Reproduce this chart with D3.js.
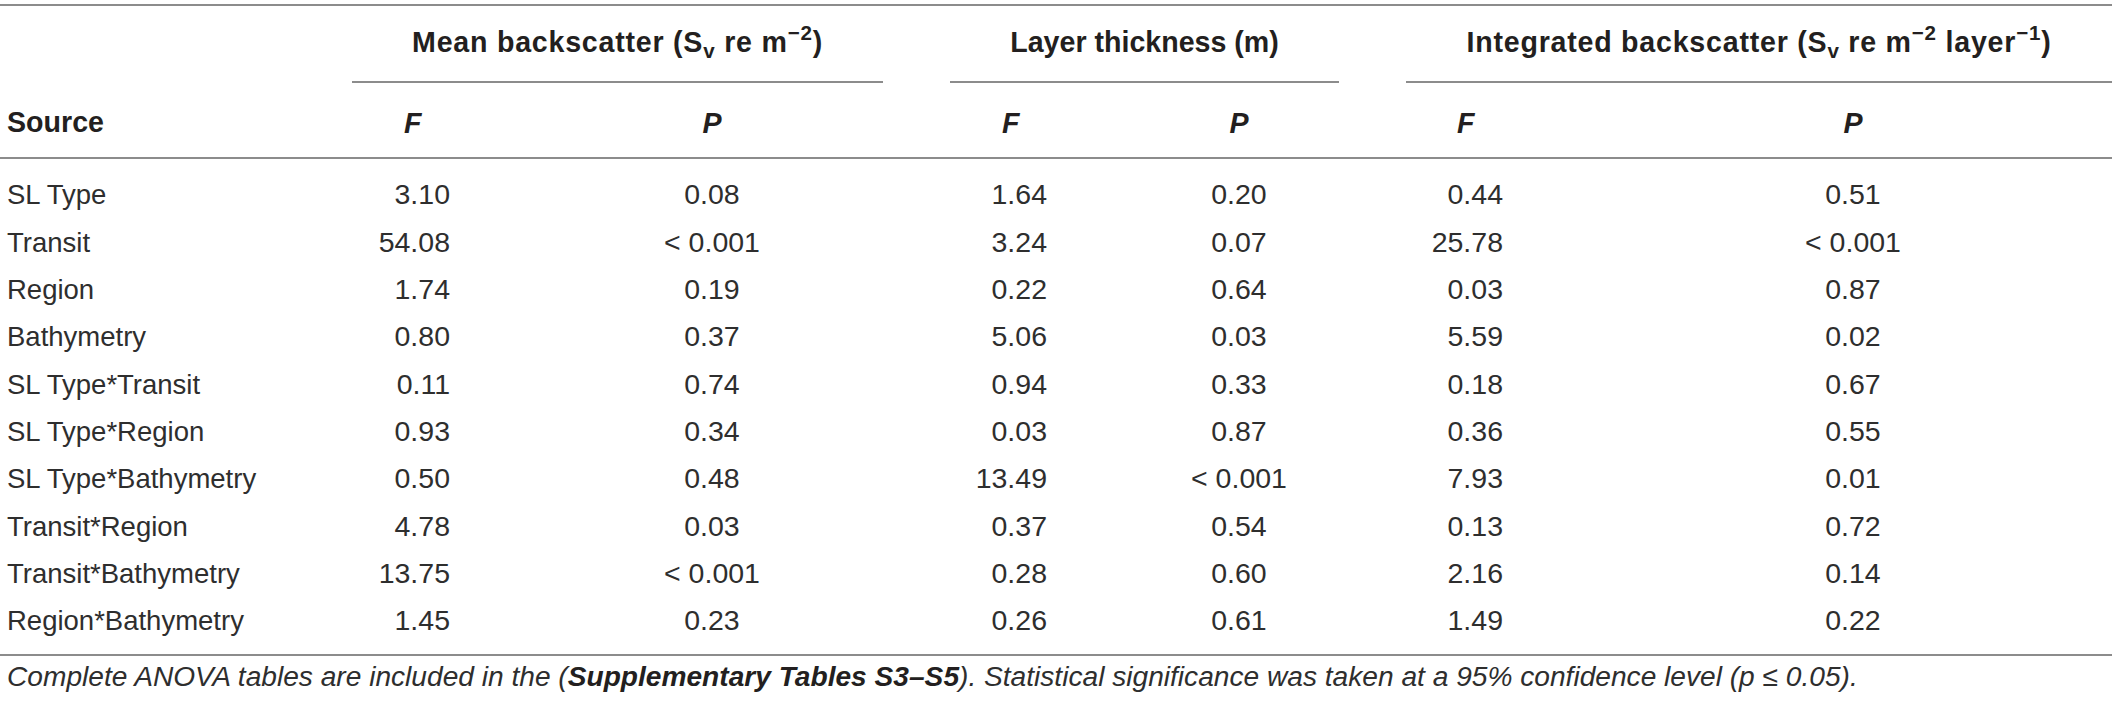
<!DOCTYPE html>
<html>
<head>
<meta charset="utf-8">
<script src="https://cdn.jsdelivr.net/npm/d3@7"></script>
<style>
  html, body { margin: 0; padding: 0; background: #ffffff; }
  svg { display: block; }
</style>
</head>
<body>
<svg id="chart" width="2118" height="705"></svg>
<script>
// ---- data ----
const sources = ["SL Type", "Transit", "Region", "Bathymetry", "SL Type*Transit",
  "SL Type*Region", "SL Type*Bathymetry", "Transit*Region", "Transit*Bathymetry", "Region*Bathymetry"];
const meanF  = ["3.10", "54.08", "1.74", "0.80", "0.11", "0.93", "0.50", "4.78", "13.75", "1.45"];
const meanP  = ["0.08", "< 0.001", "0.19", "0.37", "0.74", "0.34", "0.48", "0.03", "< 0.001", "0.23"];
const layerF = ["1.64", "3.24", "0.22", "5.06", "0.94", "0.03", "13.49", "0.37", "0.28", "0.26"];
const layerP = ["0.20", "0.07", "0.64", "0.03", "0.33", "0.87", "< 0.001", "0.54", "0.60", "0.61"];
const intF   = ["0.44", "25.78", "0.03", "5.59", "0.18", "0.36", "7.93", "0.13", "2.16", "1.49"];
const intP   = ["0.51", "< 0.001", "0.87", "0.02", "0.67", "0.55", "0.01", "0.72", "0.14", "0.22"];
const groups = ["mean", "layer", "int"];
const columnKeys = ["meanF", "meanP", "layerF", "layerP", "intF", "intP"];
const columnValues = [meanF, meanP, layerF, layerP, intF, intP];

// ---- layout ----
const W = 2118, H = 705;
const svg = d3.select("#chart");
const ink = "#231f20";
const bodyInk = "#2e2e2e";
const rule = "#8c8c8c";
const bodyFont = "'Liberation Sans', Arial, Helvetica, sans-serif";
const fs = 28.5;
const lfs = 27.5;
const hfs = 28.6;
const capOff = fs * 0.36;

const y = d3.scalePoint().domain(sources).range([194, 620]);
// anchor positions for each column (F: right edge, P: centre)
const colX = d3.scaleOrdinal().domain(columnKeys).range([450, 712, 1047, 1239, 1503, 1853]);
const colAnchor = d3.scaleOrdinal().domain(columnKeys).range(["end", "middle", "end", "middle", "end", "middle"]);
const headX = d3.scaleOrdinal().domain(columnKeys).range([404, 712, 1002, 1239, 1457, 1853]);
const headAnchor = d3.scaleOrdinal().domain(columnKeys).range(["start", "middle", "start", "middle", "start", "middle"]);
const groupSpan = d3.scaleOrdinal().domain(groups).range([[352, 883], [950, 1339], [1406, 2112]]);

// horizontal rules
const rules = [[0, W - 6, 5], [0, W - 6, 158], [0, W - 6, 655]];
svg.append("g").selectAll("line").data(rules).join("line")
  .attr("x1", d => d[0]).attr("x2", d => d[1])
  .attr("y1", d => d[2]).attr("y2", d => d[2])
  .attr("stroke", rule).attr("stroke-width", 2);

svg.append("g").selectAll("line").data(groups).join("line")
  .attr("x1", d => groupSpan(d)[0]).attr("x2", d => groupSpan(d)[1])
  .attr("y1", 82).attr("y2", 82)
  .attr("stroke", rule).attr("stroke-width", 2);

// group titles
const gTitle = svg.append("g").attr("font-family", bodyFont).attr("font-weight", "bold")
  .attr("font-size", hfs).attr("fill", ink).attr("text-anchor", "middle");
const targetGroupW = {mean: 411, layer: 269, int: 585};
function groupText(key, parts) {
  const s = groupSpan(key);
  const t = gTitle.append("text").attr("x", (s[0] + s[1]) / 2).attr("y", 42 + hfs * 0.36);
  parts.forEach(p => {
    const ts = t.append("tspan").text(p.t);
    if (p.sub) ts.attr("font-size", hfs * 0.72).attr("dy", 6);
    if (p.sup) ts.attr("font-size", hfs * 0.72).attr("dy", -12);
    if (p.back) ts.attr("dy", p.back);
  });
  const w = t.node().getComputedTextLength();
  const n = t.text().length;
  const ls = (targetGroupW[key] - w) / n;
  if (Math.abs(ls) > 0.05) t.attr("letter-spacing", ls.toFixed(2));
}
groupText("mean", [{t: "Mean backscatter (S"}, {t: "v", sub: true}, {t: " re m", back: -6},
  {t: "\u22122", sup: true}, {t: ")", back: 12}]);
groupText("layer", [{t: "Layer thickness (m)"}]);
groupText("int", [{t: "Integrated backscatter (S"}, {t: "v", sub: true}, {t: " re m", back: -6},
  {t: "\u22122", sup: true}, {t: " layer", back: 12}, {t: "\u22121", sup: true}, {t: ")", back: 12}]);

// column headers
const head = svg.append("g").attr("font-family", bodyFont).attr("font-weight", "bold")
  .attr("font-size", hfs).attr("fill", ink);
head.append("text").attr("x", 7).attr("y", 122 + capOff).text("Source");
head.selectAll("text.col").data(columnKeys).join("text").attr("class", "col")
  .attr("x", d => headX(d)).attr("y", 123 + capOff)
  .attr("text-anchor", d => headAnchor(d))
  .attr("font-style", "italic")
  .text(d => d.endsWith("F") ? "F" : "P");

// body
const body = svg.append("g").attr("font-family", bodyFont).attr("font-size", fs).attr("fill", bodyInk);
body.selectAll("text.src").data(sources).join("text").attr("class", "src")
  .attr("x", 7).attr("y", d => y(d) + capOff).attr("font-size", lfs).text(d => d);

columnKeys.forEach((k, ci) => {
  body.selectAll("text.c" + ci).data(columnValues[ci]).join("text").attr("class", "c" + ci)
    .attr("x", colX(k)).attr("y", (d, i) => y(sources[i]) + capOff)
    .attr("text-anchor", colAnchor(k))
    .text(d => d);
});

// footnote
const foot = svg.append("text").attr("x", 7).attr("y", 678 + 8)
  .attr("font-family", bodyFont).attr("font-style", "italic").attr("fill", bodyInk).attr("font-size", 23);
foot.append("tspan").text("Complete ANOVA tables are included in the (");
foot.append("tspan").attr("font-weight", "bold").attr("fill", ink).text("Supplementary Tables S3\u2013S5");
foot.append("tspan").text("). Statistical significance was taken at a 95% confidence level (p \u2264 0.05).");
const targetW = 1852;
const curW = foot.node().getComputedTextLength();
foot.attr("font-size", 23 * targetW / curW);
</script>
</body>
</html>
